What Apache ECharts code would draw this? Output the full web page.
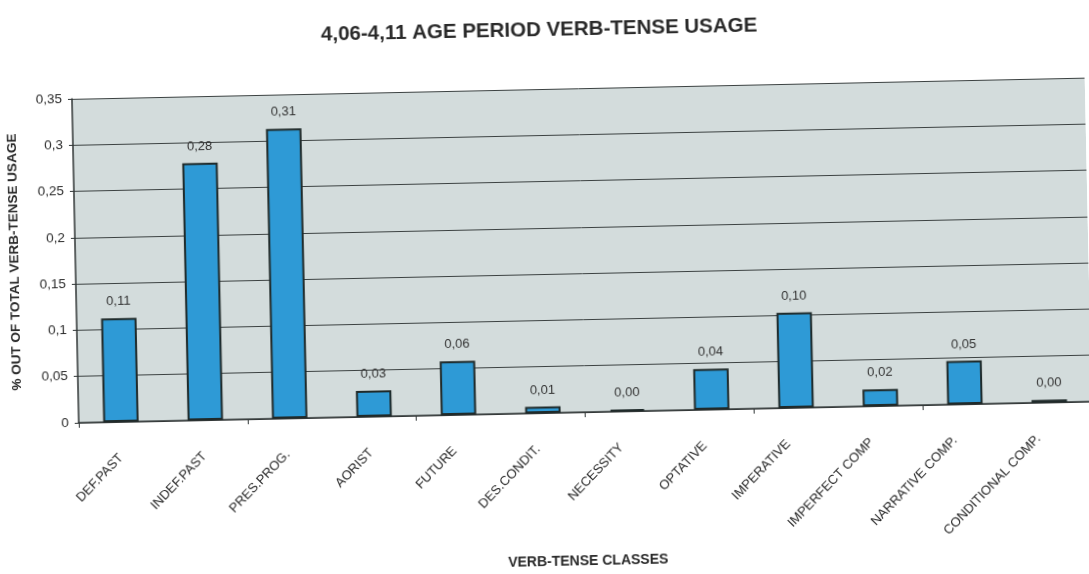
<!DOCTYPE html>
<html>
<head>
<meta charset="utf-8">
<title>4,06-4,11 AGE PERIOD VERB-TENSE USAGE</title>
<script src="https://cdn.jsdelivr.net/npm/echarts@6/dist/echarts.min.js"></script>
<style>
  html, body { margin: 0; padding: 0; background: #ffffff; overflow: hidden; }
  #chart { width: 1089px; height: 574px; transform: rotate(-1.2deg); transform-origin: 50% 50%; }
</style>
</head>
<body>
<div id="chart"></div>
<script>
// Verb-tense classes on the x axis
const categories = [
  'DEF.PAST', 'INDEF.PAST', 'PRES.PROG.', 'AORIST', 'FUTURE', 'DES.CONDIT.',
  'NECESSITY', 'OPTATIVE', 'IMPERATIVE', 'IMPERFECT COMP', 'NARRATIVE COMP.', 'CONDITIONAL COMP.'
];

// Share of total verb-tense usage per class (labels show two decimals)
const usageShare = [0.112, 0.278, 0.313, 0.028, 0.058, 0.007, 0.002, 0.044, 0.103, 0.018, 0.047, 0.003];

// Y axis tick labels, comma decimal separator
const yTickLabels = ['0', '0,05', '0,1', '0,15', '0,2', '0,25', '0,3', '0,35'];

const chart = echarts.init(document.getElementById('chart'), null, { renderer: 'canvas' });

const font = 'Liberation Sans, Arial, sans-serif';
const ink = '#2a2a2a';

chart.setOption({
  animation: false,
  backgroundColor: '#ffffff',
  title: {
    text: '4,06-4,11 AGE PERIOD VERB-TENSE USAGE',
    left: 'center',
    top: 15,
    textStyle: { fontFamily: font, fontSize: 20.5, fontWeight: 'bold', color: ink }
  },
  grid: [
    // plot area
    { left: 75, top: 89, width: 1032, height: 334, show: true, backgroundColor: '#d3dcdc', borderWidth: 0 },
    // slightly narrower band that carries the slanted category labels
    { left: 76, top: 89, width: 1001, height: 334, show: false }
  ],
  xAxis: [
    {
      type: 'category',
      gridIndex: 0,
      data: categories,
      name: 'VERB-TENSE CLASSES',
      nameLocation: 'middle',
      nameGap: 142,
      nameTextStyle: { fontFamily: font, fontSize: 14, fontWeight: 'bold', color: ink },
      axisLine: { lineStyle: { color: '#2f3535', width: 1.5 } },
      axisTick: { show: true, length: 5, lineStyle: { color: '#2f3535' } },
      axisLabel: { show: false }
    },
    {
      type: 'category',
      gridIndex: 1,
      data: categories,
      axisLine: { show: false },
      axisTick: { show: false },
      axisLabel: {
        interval: 0,
        rotate: 45,
        margin: 24,
        fontFamily: font,
        fontSize: 13,
        color: ink
      }
    }
  ],
  yAxis: [
    {
      type: 'value',
      gridIndex: 0,
      min: 0,
      max: 0.35,
      interval: 0.05,
      name: '% OUT OF TOTAL VERB-TENSE USAGE',
      nameLocation: 'middle',
      nameGap: 54,
      nameTextStyle: { fontFamily: font, fontSize: 13.5, fontWeight: 'bold', color: ink },
      axisLine: { show: true, lineStyle: { color: '#2f3535', width: 1.5 } },
      axisTick: { show: true, length: 4, lineStyle: { color: '#2f3535' } },
      axisLabel: {
        margin: 10,
        fontFamily: font,
        fontSize: 13.5,
        color: ink,
        formatter: function (value, index) { return yTickLabels[index]; }
      },
      splitLine: { show: true, lineStyle: { color: '#3c4242', width: 1 } }
    },
    {
      type: 'value',
      gridIndex: 1,
      min: 0,
      max: 0.35,
      interval: 0.05,
      show: false
    }
  ],
  series: [{
    type: 'bar',
    xAxisIndex: 0,
    yAxisIndex: 0,
    data: usageShare,
    barWidth: '42%',
    itemStyle: {
      color: '#2e9ad6',
      borderColor: '#1f2a2a',
      borderWidth: 2
    },
    label: {
      show: true,
      position: 'top',
      distance: 10,
      fontFamily: font,
      fontSize: 13,
      color: '#333333',
      formatter: function (p) { return p.value.toFixed(2).replace('.', ','); }
    }
  }]
});
</script>
</body>
</html>
